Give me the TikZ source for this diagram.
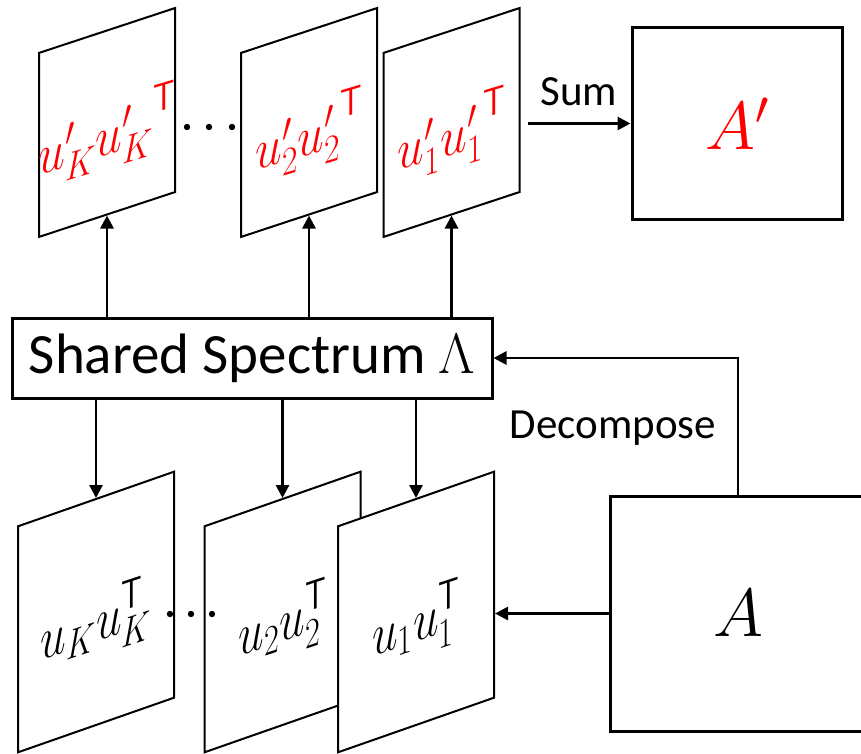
\documentclass[tikz,border=0pt]{standalone}
\usepackage{fix-cm}
\usepackage{fontspec}
\newfontfamily\calibri{Carlito}
\usetikzlibrary{arrows.meta}
\newcommand{\tallmath}[2][1.18]{\scalebox{1}[#1]{$#2$}}
\begin{document}
\begin{tikzpicture}[x=1pt,y=-1pt,
  planetop/.style={draw, fill=white, line width=2pt, inner sep=0pt,
    minimum width=136pt, minimum height=184pt, yslant=0.33},
  planebot/.style={draw, fill=white, line width=2pt, inner sep=0pt,
    minimum width=156pt, minimum height=226pt, yslant=0.35},
  ttop/.style={inner sep=0pt, text=red, yslant=0.30, font=\fontsize{48}{56}\selectfont},
  tbot/.style={inner sep=0pt, yslant=0.33, font=\fontsize{46}{54}\selectfont},
  box/.style={draw, fill=white, line width=3pt, inner sep=0pt},
  arr/.style={line width=2.8pt, -{Triangle[length=13pt,width=13pt]}},
  lbl/.style={font=\calibri\fontsize{43}{50}\selectfont, inner sep=0pt},
  dot/.style={fill=black}]
\useasboundingbox (0,0) rectangle (861,754);
\clip (0,0) rectangle (861,754);

% top planes
\node[planetop] (pKt) at (107,122.5) {};
\node[planetop] (p2t) at (309,122.5) {};
\node[planetop] (p1t) at (451.5,122.5) {};
\node[ttop] (tKt) at ([yshift=-12pt]pKt.center) {\tallmath{u'_K{u'_K}^{\mathsf{T}}}};
\node[ttop] (t2t) at ([yshift=-12pt]p2t.center) {\tallmath{u'_2{u'_2}^{\mathsf{T}}}};
\node[ttop] (t1t) at ([yshift=-12pt]p1t.center) {\tallmath{u'_1{u'_1}^{\mathsf{T}}}};
\fill[dot] (187,127) circle (3.2pt) (209,127) circle (3.2pt) (232,127) circle (3.2pt);

% bottom planes
\node[planebot] (pKb) at (96,612) {};
\node[tbot] (tKb) at ([yshift=-12pt]pKb.center) {\tallmath[1.3]{u_K u_K^{\mathsf{T}}}};
\node[planebot] (p2b) at (282.5,612) {};
\node[tbot] (t2b) at ([yshift=-12pt]p2b.center) {\tallmath[1.3]{u_2 u_2^{\mathsf{T}}}};
\node[planebot] (p1b) at (416,612) {};
\node[tbot] (t1b) at ([yshift=-12pt]p1b.center) {\tallmath[1.3]{u_1 u_1^{\mathsf{T}}}};
\fill[dot] (170,614) circle (3.2pt) (191,614) circle (3.2pt) (212,614) circle (3.2pt);

% boxes
\node[box, minimum width=480pt, minimum height=80pt,
  font=\calibri\fontsize{57}{64}\selectfont] (shared) at (252,358) {Shared Spectrum $\Lambda$};
\node[box, minimum width=210pt, minimum height=191pt,
  font=\fontsize{68}{74}\selectfont] (Ap) at (737,123.5) {$\color{red}A'$};
\node[box, minimum width=256pt, minimum height=235pt,
  font=\fontsize{68}{74}\selectfont] (A) at (738,613.5) {$A$};

% arrows up
\draw[arr] (shared.north -| pKt.south) -- (pKt.south);
\draw[arr] (shared.north -| p2t.south) -- (p2t.south);
\draw[arr] (shared.north -| p1t.south) -- (p1t.south);
% arrows down
\draw[arr] (shared.south -| pKb.north) -- (pKb.north);
\draw[arr] (shared.south -| p2b.north) -- (p2b.north);
\draw[arr] (shared.south -| p1b.north) -- (p1b.north);

% sum
\coordinate (sumstart) at ([xshift=7pt]Ap.west -| p1t.east);
\draw[arr] (sumstart) -- (Ap.west);
\node[lbl] (sumlbl) at (579,92) {Sum};

% decompose
\draw[arr] (A.north) |- (shared.east);
\node[lbl] (declbl) at (613,428) {Decompose};

% A to plane 1
\draw[arr] (A.west) -- (A.west -| p1b.east);
\end{tikzpicture}
\end{document}
